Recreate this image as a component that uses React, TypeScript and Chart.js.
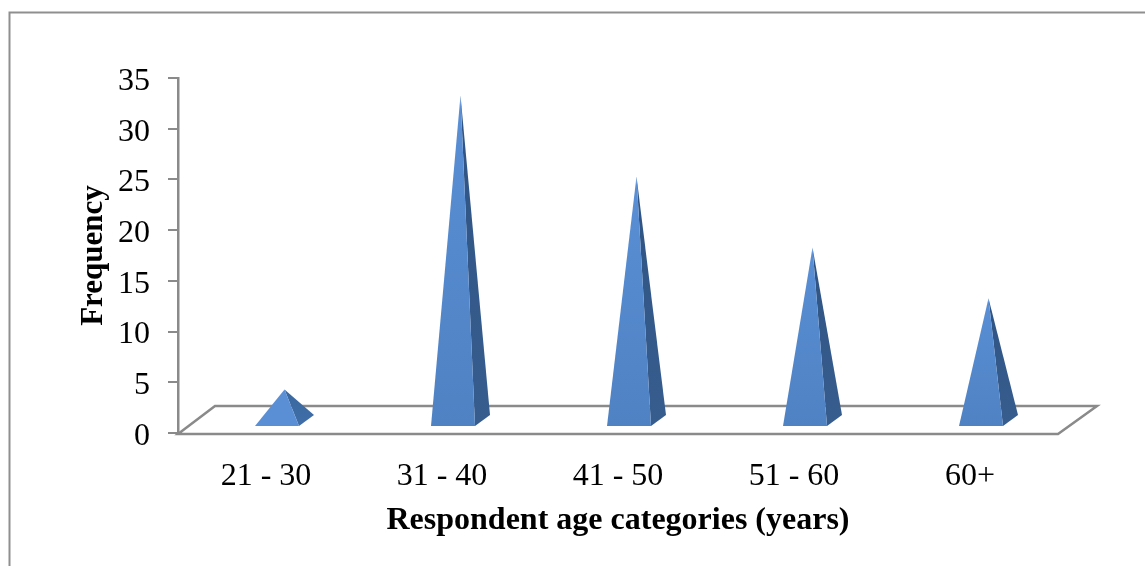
import React, { useEffect, useRef } from "react";
import { Chart, registerables } from "chart.js";

Chart.register(...registerables);

const categories = ["21 - 30", "31 - 40", "41 - 50", "51 - 60", "60+"];
const frequency = [3, 32, 24, 17, 12];
const yTitle = "Frequency";
const xTitle = "Respondent age categories (years)";

const FONT = "'Liberation Serif', 'Times New Roman', serif";
const AXIS = "#8a8a8a";

const scene = {
  id: "scene",
  beforeDraw(chart: any) {
    const { ctx, scales } = chart;
    const x = scales.x;
    const y0 = scales.y.getPixelForValue(0);
    ctx.save();
    // outer frame, cropped on the other sides
    ctx.strokeStyle = "#8f8f8f";
    ctx.lineWidth = 2;
    ctx.beginPath();
    ctx.moveTo(9.5, 566);
    ctx.lineTo(9.5, 12.5);
    ctx.lineTo(1145, 12.5);
    ctx.stroke();
    // 3D floor
    ctx.strokeStyle = AXIS;
    ctx.lineWidth = 2.5;
    ctx.lineJoin = "miter";
    ctx.beginPath();
    ctx.moveTo(x.left, y0 + 1);
    ctx.lineTo(x.right, y0 + 1);
    ctx.lineTo(x.right + 39, y0 - 27);
    ctx.lineTo(x.left + 37, y0 - 27);
    ctx.closePath();
    ctx.stroke();
    ctx.restore();
  },
  afterDatasetsDraw(chart: any) {
    const { ctx, scales } = chart;
    const y0 = scales.y.getPixelForValue(0);
    const meta = chart.getDatasetMeta(0);
    const dx = 15;
    const dy = 11;
    meta.data.forEach((bar: any) => {
      const w = bar.width;
      const cx = bar.x + 18.5;
      const by = y0 - 7;
      const fl = cx - dx / 2 - w / 2;
      const fr = fl + w;
      const px = cx;
      const py = bar.y - 13;
      const tall = by - py > 60;
      ctx.save();
      const sideGrad = ctx.createLinearGradient(0, py, 0, by);
      sideGrad.addColorStop(0, tall ? "#2f5484" : "#3a679f");
      sideGrad.addColorStop(1, tall ? "#375d8e" : "#3f6ea8");
      ctx.fillStyle = sideGrad;
      ctx.beginPath();
      ctx.moveTo(fr, by);
      ctx.lineTo(fr + dx, by - dy);
      ctx.lineTo(px, py);
      ctx.closePath();
      ctx.fill();
      const frontGrad = ctx.createLinearGradient(0, py, 0, by);
      frontGrad.addColorStop(0, "#5a8fd6");
      frontGrad.addColorStop(1, tall ? "#4f82c3" : "#5a8fd6");
      ctx.fillStyle = frontGrad;
      ctx.beginPath();
      ctx.moveTo(fl, by);
      ctx.lineTo(fr, by);
      ctx.lineTo(px, py);
      ctx.closePath();
      ctx.fill();
      ctx.restore();
    });
  },
};

export default function App() {
  const ref = useRef<HTMLCanvasElement>(null);
  useEffect(() => {
    const chart = new Chart(ref.current as HTMLCanvasElement, {
      type: "bar",
      data: {
        labels: categories,
        datasets: [
          {
            label: yTitle,
            data: frequency,
            backgroundColor: "rgba(0,0,0,0)",
            borderWidth: 0,
            barPercentage: 1,
            categoryPercentage: 0.25,
          },
        ],
      },
      plugins: [scene],
      options: {
        responsive: false,
        animation: false,
        devicePixelRatio: 1,
        layout: { padding: { left: 60, top: 78, right: 87, bottom: 0 } },
        plugins: { legend: { display: false }, tooltip: { enabled: false } },
        scales: {
          x: {
            grid: { display: false, drawTicks: false },
            border: { display: false },
            ticks: { color: "#000", font: { family: FONT, size: 32 }, padding: 24, maxRotation: 0 },
            title: {
              display: true,
              text: xTitle,
              color: "#000",
              font: { family: FONT, size: 32, weight: "bold" },
              padding: { top: 0, bottom: 26 },
            },
            afterFit(scale: any) {
              scale.height = 133;
            },
          },
          y: {
            min: 0,
            max: 35,
            ticks: { stepSize: 5, color: "#000", font: { family: FONT, size: 32 }, padding: 18, labelOffset: 3.5 },
            grid: { drawOnChartArea: false, color: AXIS, tickColor: AXIS, tickLength: 10, lineWidth: 2 },
            border: { color: AXIS, width: 2.5 },
            title: {
              display: true,
              text: yTitle,
              color: "#000",
              font: { family: FONT, size: 31, weight: "bold" },
              padding: { top: 15, bottom: 0 },
            },
            afterFit(scale: any) {
              scale.width = 118;
            },
          },
        },
      },
    } as any);
    return () => chart.destroy();
  }, []);
  return (
    <div style={{ position: "fixed", left: 0, top: 0, width: 1145, height: 566, background: "#fff" }}>
      <canvas ref={ref} width={1145} height={566} style={{ display: "block" }} />
    </div>
  );
}
